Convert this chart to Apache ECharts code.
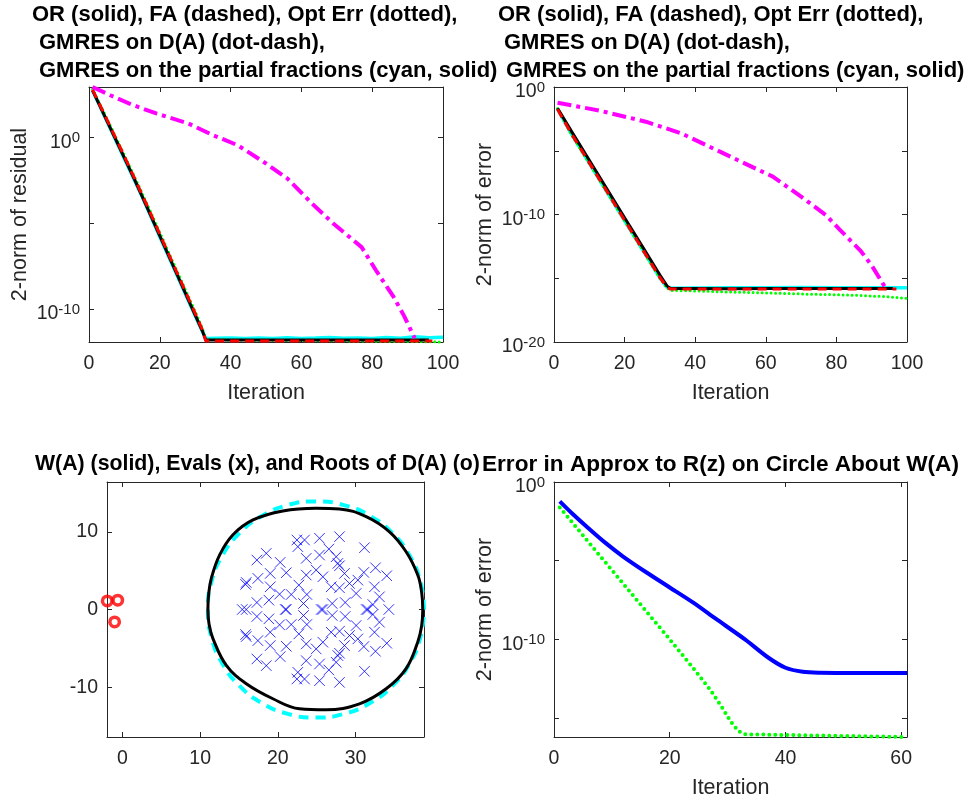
<!DOCTYPE html>
<html><head><meta charset="utf-8">
<script src="https://cdn.jsdelivr.net/npm/echarts@6/dist/echarts.min.js"></script>
<style>html,body{margin:0;padding:0;background:#fff}#c{width:967px;height:802px}</style>
</head><body><div id="c"></div>
<script>
// ---------- DATA (log-scale values are stored as log10 exponents) ----------
// Panel 1: 2-norm of residual vs iteration
const p1OR_it   = [1, 5, 10, 13, 16, 20, 25, 30, 32, 33, 40, 50, 60, 70, 80, 90, 96];
const p1OR_exp  = [2.73, 0.98, -1.21, -2.53, -3.9, -5.75, -8.05, -10.35, -11.27, -11.8, -11.8, -11.81, -11.8, -11.8, -11.81, -11.8, -11.8];
const p1FA_it   = [1, 5, 10, 13, 16, 20, 25, 30, 32, 33, 40, 50, 60, 70, 80, 90, 97];
const p1FA_exp  = [2.76, 1.05, -1.12, -2.45, -3.8, -5.65, -7.95, -10.25, -11.2, -11.86, -11.86, -11.86, -11.86, -11.86, -11.86, -11.86, -11.86];
const p1Opt_it  = [1, 5, 10, 15, 20, 25, 30, 32, 33, 40, 50, 60, 70, 80, 90, 100];
const p1Opt_exp = [2.8, 1.1, -1.05, -3.25, -5.55, -7.85, -10.15, -11.1, -11.78, -11.8, -11.82, -11.84, -11.85, -11.87, -11.88, -11.92];
const p1GD_it   = [1, 6, 12, 19, 28, 35, 42, 50, 56, 63, 69, 77, 81, 86, 89, 92];
const p1GD_exp  = [2.92, 2.44, 1.9, 1.38, 0.8, 0.12, -0.47, -1.53, -2.4, -3.86, -5.02, -6.4, -7.73, -9.28, -10.4, -11.7];
const p1PF_it   = [1, 5, 10, 15, 20, 25, 30, 32, 33, 36, 40, 44, 48, 52, 56, 60, 64, 68, 72, 76, 80, 84, 88, 92, 96, 100];
const p1PF_exp  = [2.72, 0.95, -1.25, -3.45, -5.8, -8.1, -10.4, -11.3, -11.72, -11.7, -11.68, -11.72, -11.69, -11.71, -11.67, -11.71, -11.69, -11.66, -11.7, -11.68, -11.71, -11.66, -11.7, -11.62, -11.67, -11.64];

// Panel 2: 2-norm of error vs iteration
const p2OR_it   = [1, 5, 10, 15, 20, 25, 30, 32, 33, 40, 50, 60, 70, 80, 90, 96];
const p2OR_exp  = [-1.67, -3.5, -5.75, -8.0, -10.25, -12.5, -14.75, -15.6, -15.8, -15.8, -15.82, -15.8, -15.8, -15.81, -15.8, -15.8];
const p2FA_it   = [1, 5, 10, 15, 20, 25, 30, 32, 33, 40, 50, 60, 70, 80, 90, 97];
const p2FA_exp  = [-1.75, -3.7, -5.95, -8.2, -10.45, -12.7, -14.95, -15.7, -15.85, -15.85, -15.85, -15.85, -15.85, -15.85, -15.85, -15.85];
const p2Opt_it  = [1, 5, 10, 15, 20, 25, 30, 32, 33, 40, 50, 64, 72, 83, 94, 100];
const p2Opt_exp = [-1.7, -3.75, -6.0, -8.25, -10.5, -12.75, -15.0, -15.75, -15.95, -16.0, -16.08, -16.18, -16.25, -16.31, -16.44, -16.58];
const p2GD_it   = [1, 13, 26, 36, 47, 54, 62, 70, 77, 81, 87, 90, 94];
const p2GD_exp  = [-1.23, -1.86, -2.72, -3.63, -5.07, -5.99, -7.03, -8.6, -10.04, -11.2, -12.9, -14.0, -15.8];
const p2PF_it   = [1, 5, 10, 15, 20, 25, 30, 32, 33, 40, 50, 60, 70, 80, 90, 100];
const p2PF_exp  = [-1.72, -3.72, -5.97, -8.22, -10.47, -12.72, -14.97, -15.7, -15.78, -15.76, -15.74, -15.75, -15.73, -15.74, -15.74, -15.75];

// Panel 3: W(A) boundary, circle, eigenvalues, roots of D(A)
const wX = [11.0, 11.1, 11.44, 12.5, 14.2, 16.8, 20.64, 24.93, 27.93, 31.36, 34.36, 36.5, 38.0, 38.5, 38.64, 38.5, 38.0, 36.5, 33.93, 30.5, 26.2, 22.79, 19.36, 15.94, 13.37, 11.65, 11.15, 11.0];
const wY = [0.0, 2.0, 4.0, 7.0, 9.59, 11.52, 12.68, 13.03, 12.94, 11.95, 10.0, 7.43, 4.43, 2.2, 0.0, -2.1, -4.18, -7.6, -10.2, -12.13, -12.9, -12.77, -11.48, -9.55, -7.19, -3.74, -1.9, 0.0];
const circX = [38.8, 38.33, 36.94, 34.73, 31.85, 28.5, 24.9, 21.3, 17.95, 15.07, 12.86, 11.47, 11.0, 11.47, 12.86, 15.07, 17.95, 21.3, 24.9, 28.5, 31.85, 34.73, 36.94, 38.33, 38.8];
const circY = [0, 3.6, 6.95, 9.83, 12.04, 13.43, 13.9, 13.43, 12.04, 9.83, 6.95, 3.6, 0, -3.6, -6.95, -9.83, -12.04, -13.43, -13.9, -13.43, -12.04, -9.83, -6.95, -3.6, 0];
const eigRe = [22.45, 23.43, 22.57, 25.36, 27.93, 31.14, 18.51, 17.30, 20.30, 23.65, 25.36, 26.56, 27.50, 27.72, 27.93, 28.57, 19.02, 21.08, 17.43, 15.93, 15.85, 19.02, 23.65, 24.93, 25.79, 22.70, 23.73, 21.72, 20.22, 18.85, 17.30, 26.86, 27.93, 29.22, 30.29, 31.06, 32.56, 34.01, 32.43, 30.07, 33.07, 32.22, 28.66, 26.99, 23.30,
               22.45, 23.43, 22.57, 25.36, 27.93, 31.14, 18.51, 17.30, 20.30, 23.65, 25.36, 26.56, 27.50, 27.72, 27.93, 28.57, 19.02, 21.08, 17.43, 15.93, 15.85, 19.02, 23.65, 24.93, 25.79, 22.70, 23.73, 21.72, 20.22, 18.85, 17.30, 26.86, 27.93, 29.22, 30.29, 31.06, 32.56, 34.01, 32.43, 30.07, 33.07, 32.22, 28.66, 26.99, 23.30,
               15.42, 15.93, 20.95, 21.08, 25.57, 25.79, 31.36, 31.57, 34.27];
const eigIm = [8.94, 8.94, 8.08, 9.16, 9.37, 7.95, 7.22, 6.36, 6.06, 6.58, 7.01, 7.78, 6.79, 5.93, 5.63, 4.64, 4.64, 4.73, 4.0, 3.48, 3.22, 2.92, 4.43, 5.07, 4.21, 3.14, 1.93, 1.93, 1.97, 1.2, 0.9, 2.92, 2.79, 3.35, 3.78, 4.77, 5.37, 4.34, 2.92, 2.06, 1.63, 0.64, 0.9, 0.77, 0.77,
               -8.94, -8.94, -8.08, -9.16, -9.37, -7.95, -7.22, -6.36, -6.06, -6.58, -7.01, -7.78, -6.79, -5.93, -5.63, -4.64, -4.64, -4.73, -4.0, -3.48, -3.22, -2.92, -4.43, -5.07, -4.21, -3.14, -1.93, -1.93, -1.97, -1.2, -0.9, -2.92, -2.79, -3.35, -3.78, -4.77, -5.37, -4.34, -2.92, -2.06, -1.63, -0.64, -0.9, -0.77, -0.77,
               0, 0, 0, 0, 0, 0, 0, 0, 0];
const rootRe = [-1.95, -0.6, -1.0];
const rootIm = [1.1, 1.2, -1.6];

// Panel 4: error in approximation to R(z) on circle
const p4Blue_it  = [1, 3, 6, 9, 12, 16, 20, 24, 28, 33, 37, 40, 43, 46, 50, 61];
const p4Blue_exp = [-1.23, -1.95, -2.95, -3.9, -4.75, -5.75, -6.7, -7.65, -8.7, -10.0, -11.15, -11.8, -12.06, -12.12, -12.13, -12.13];
const p4Grn_it   = [1, 10, 20, 24, 27, 29, 30, 31, 32, 33, 45, 61];
const p4Grn_exp  = [-1.62, -5.6, -10.0, -11.8, -13.2, -14.3, -14.9, -15.45, -15.85, -16.03, -16.1, -16.2];

// Tick values
const iterTicks100 = [0, 20, 40, 60, 80, 100];
const iterTicks60  = [0, 20, 40, 60];
const p1YTicks = [0, -5, -10];       const p1YLabels = [0, -10];
const p2YTicks = [0, -5, -10, -15, -20]; const p2YLabels = [0, -10, -20];
const p4YTicks = [0, -5, -10, -15];  const p4YLabels = [0, -10];
const p3XTicks = [0, 10, 20, 30];
const p3YTicks = [-10, 0, 10];

// Titles
const titleTL = ['OR (solid), FA (dashed), Opt Err (dotted),', 'GMRES on D(A) (dot-dash),', 'GMRES on the partial fractions (cyan, solid)'];
const titleTR = titleTL;
const titleBL = 'W(A) (solid), Evals (x), and Roots of D(A) (o)';
const titleBR = 'Error in Approx to R(z) on Circle About W(A)';

// ---------- CHART ----------
const FONT = "'Liberation Sans', Arial, Helvetica, sans-serif";
const AX = '#262626';
const TICK_FS = 19.5, NAME_FS = 21.5, TITLE_FS = 22;

function xAxes(gi, min, max, ticks, name) {
  const base = {gridIndex: gi, type: 'value', min: min, max: max, splitLine: {show: false},
    axisLine: {show: true, onZero: false, lineStyle: {color: AX, width: 1}},
    axisTick: {show: true, inside: true, length: 5, customValues: ticks, lineStyle: {color: AX, width: 1}}};
  const bottom = Object.assign({}, base, {position: 'bottom',
    axisLabel: {show: true, customValues: ticks, margin: 12, color: AX, fontSize: TICK_FS, fontFamily: FONT}});
  if (name) Object.assign(bottom, {name: name, nameLocation: 'middle', nameGap: 40,
    nameTextStyle: {color: AX, fontSize: NAME_FS, fontFamily: FONT}});
  const top = Object.assign({}, base, {position: 'top', axisLabel: {show: false}});
  return [bottom, top];
}
function yAxes(gi, min, max, ticks, labels, isLog, name, gap) {
  const base = {gridIndex: gi, type: 'value', min: min, max: max, splitLine: {show: false},
    axisLine: {show: true, onZero: false, lineStyle: {color: AX, width: 1}},
    axisTick: {show: true, inside: true, length: 5, customValues: ticks, lineStyle: {color: AX, width: 1}}};
  const lab = {show: true, customValues: labels, margin: 9, color: AX, fontSize: TICK_FS, fontFamily: FONT};
  if (isLog) Object.assign(lab, {
    formatter: v => '{b|10}{s|' + v + '}',
    padding: [8, 0, 0, 0],
    rich: {b: {fontSize: TICK_FS, fontFamily: FONT, color: AX, lineHeight: 22, verticalAlign: 'bottom'},
           s: {fontSize: 15, fontFamily: FONT, color: AX, lineHeight: 13, verticalAlign: 'top'}}
  });
  const left = Object.assign({}, base, {position: 'left', axisLabel: lab});
  if (name) Object.assign(left, {name: name, nameLocation: 'middle', nameGap: gap,
    nameTextStyle: {color: AX, fontSize: NAME_FS, fontFamily: FONT}});
  const right = Object.assign({}, base, {position: 'right', axisLabel: {show: false}});
  return [left, right];
}
function line(gi, xs, ys, style, extra) {
  return Object.assign({type: 'line', xAxisIndex: gi * 2, yAxisIndex: gi * 2,
    data: xs.map((x, i) => [x, ys[i]]), showSymbol: false, symbol: 'none',
    animation: false, silent: true, clip: false, lineStyle: style}, extra || {});
}
function panelLines(gi, d) {
  return [
    line(gi, d.pfIt, d.pf, {color: '#00ffff', width: 3.5}),
    line(gi, d.optIt, d.opt, {color: '#00ff00', width: 3, type: [0, 4.5], cap: 'round'}),
    line(gi, d.orIt, d.or, {color: '#000000', width: 3}),
    line(gi, d.faIt, d.fa, {color: '#ff0000', width: 3, type: [9, 6]}),
    line(gi, d.gdIt, d.gd, {color: '#ff00ff', width: 4, type: [14, 5, 4, 5]})
  ];
}

const xAxis = [].concat(
  xAxes(0, 0, 100, iterTicks100, 'Iteration'),
  xAxes(1, 0, 100, iterTicks100, 'Iteration'),
  xAxes(2, -1.98, 38.8, p3XTicks, null),
  xAxes(3, 0, 61, iterTicks60, 'Iteration'));
const yAxis = [].concat(
  yAxes(0, -11.92, 2.92, p1YTicks, p1YLabels, true, '2-norm of residual', 58),
  yAxes(1, -20, 0, p2YTicks, p2YLabels, true, '2-norm of error', 58),
  yAxes(2, -16.4, 16.4, p3YTicks, p3YTicks, false, null, 0),
  yAxes(3, -16.2, 0, p4YTicks, p4YLabels, true, '2-norm of error', 58));

const series = [].concat(
  panelLines(0, {pfIt: p1PF_it, pf: p1PF_exp, optIt: p1Opt_it, opt: p1Opt_exp, orIt: p1OR_it, or: p1OR_exp,
                 faIt: p1FA_it, fa: p1FA_exp, gdIt: p1GD_it, gd: p1GD_exp}),
  panelLines(1, {pfIt: p2PF_it, pf: p2PF_exp, optIt: p2Opt_it, opt: p2Opt_exp, orIt: p2OR_it, or: p2OR_exp,
                 faIt: p2FA_it, fa: p2FA_exp, gdIt: p2GD_it, gd: p2GD_exp}),
  [
    line(2, circX, circY, {color: '#00ffff', width: 4, type: [10, 7]}, {smooth: true}),
    line(2, wX, wY, {color: '#000000', width: 3}, {smooth: 0.4}),
    {type: 'scatter', xAxisIndex: 4, yAxisIndex: 4, animation: false, silent: true, clip: false,
     data: eigRe.map((x, i) => [x, eigIm[i]]),
     symbol: 'path://M0,0L10,10M10,0L0,10', symbolSize: 10.5,
     itemStyle: {color: 'rgba(0,0,0,0)', borderColor: '#0000ff', borderWidth: 1}},
    {type: 'scatter', xAxisIndex: 4, yAxisIndex: 4, animation: false, silent: true, clip: false,
     data: rootRe.map((x, i) => [x, rootIm[i]]),
     symbol: 'circle', symbolSize: 9.5,
     itemStyle: {color: 'rgba(0,0,0,0)', borderColor: '#ff0000', borderWidth: 3.5}},
    line(3, p4Blue_it, p4Blue_exp, {color: '#0000ff', width: 4}, {smooth: 0.3}),
    line(3, p4Grn_it, p4Grn_exp, {color: '#00ff00', width: 4, type: [0, 6], cap: 'round'})
  ]);

function tText(x, y, text, fs) {
  return {type: 'text', x: x, y: y, silent: true,
    style: {text: text, fill: '#000', fontSize: fs || TITLE_FS, fontWeight: 'bold', fontFamily: FONT,
            align: 'left', verticalAlign: 'middle', textAlign: 'left', textVerticalAlign: 'middle'}};
}
const graphics = [
  tText(32, 14.5, titleTL[0]), tText(39, 42.5, titleTL[1]), tText(39, 70.5, titleTL[2]),
  tText(498, 14.5, titleTR[0]), tText(504, 42.5, titleTR[1]), tText(506, 70.5, titleTR[2]),
  tText(35, 464.5, titleBL, 21.3), tText(482, 464.5, titleBR, 22.6)
];

const chart = echarts.init(document.getElementById('c'), null, {renderer: 'canvas'});
chart.setOption({
  animation: false,
  backgroundColor: '#ffffff',
  grid: [
    {left: 89, top: 87, width: 354, height: 255, containLabel: false, outerBoundsMode: 'none'},
    {left: 554, top: 87, width: 353, height: 255, containLabel: false, outerBoundsMode: 'none'},
    {left: 107, top: 482, width: 317, height: 255, containLabel: false, outerBoundsMode: 'none'},
    {left: 554, top: 482, width: 353, height: 255, containLabel: false, outerBoundsMode: 'none'}
  ],
  xAxis: xAxis,
  yAxis: yAxis,
  series: series,
  graphic: {elements: graphics}
});
</script>
</body></html>
